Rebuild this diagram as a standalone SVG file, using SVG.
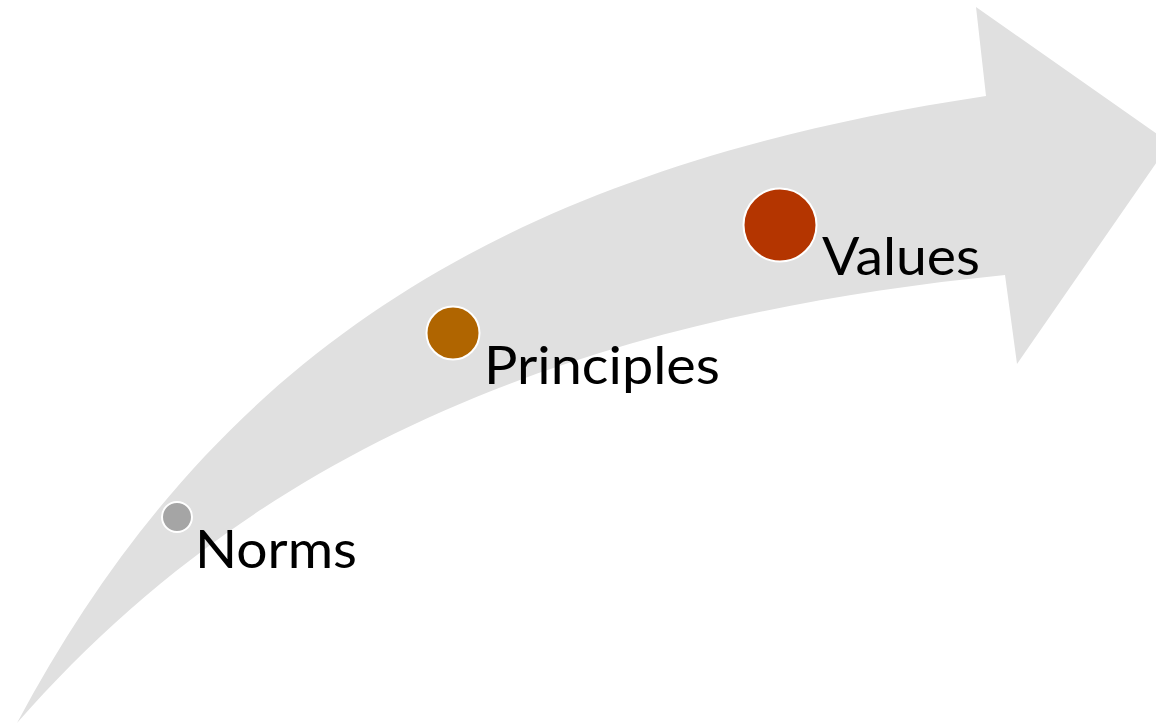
<svg xmlns="http://www.w3.org/2000/svg" width="1156" height="725" viewBox="0 0 1156 725">
  <style>
    .band { fill: #E0E0E0; stroke: none; }
    .dot { stroke: #FFFFFF; stroke-width: 2; }
    .label { font-family: Lato, "Liberation Sans", sans-serif; font-size: 53px; fill: #000000; }
  </style>

  <!-- curved rising arrow: tapered tail at bottom left, head at right -->
  <g id="connectors">
    <path class="band" d="M 17,723
      C 210,362 492,170 986,96
      L 976,7 L 1170,143 L 1017,364 L 1005,275
      C 557,319.8 247.7,459.8 17,723 Z"/>
  </g>

  <g id="norms">
    <circle class="dot" cx="177" cy="517" r="15" fill="#A5A5A5"/>
    <text class="label" x="195" y="568" textLength="162" lengthAdjust="spacingAndGlyphs">Norms</text>
  </g>

  <g id="principles">
    <circle class="dot" cx="453" cy="333" r="26.5" fill="#B06500"/>
    <text class="label" x="484" y="384" textLength="236" lengthAdjust="spacingAndGlyphs">Principles</text>
  </g>

  <g id="values">
    <circle class="dot" cx="780" cy="225" r="36.5" fill="#B43500"/>
    <text class="label" x="822" y="275" textLength="158" lengthAdjust="spacingAndGlyphs">Values</text>
  </g>
</svg>
